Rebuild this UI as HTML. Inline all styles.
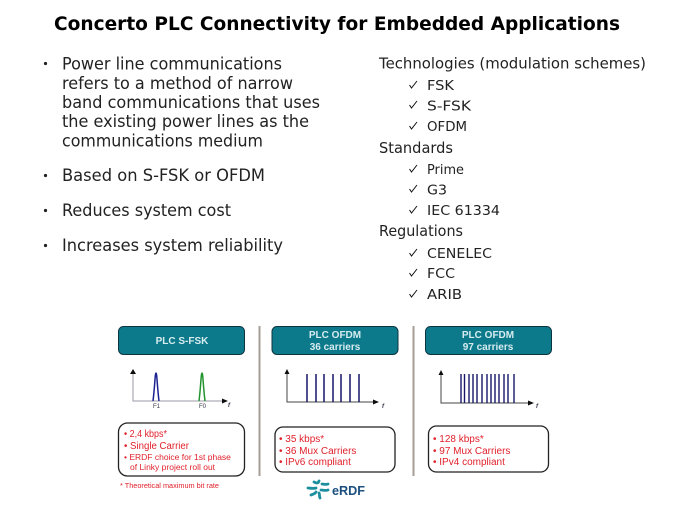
<!DOCTYPE html>
<html>
<head>
<meta charset="utf-8">
<style>
html,body{margin:0;padding:0;background:#fff;width:674px;height:506px;overflow:hidden}
svg{display:block}
.t{font-family:"DejaVu Sans",sans-serif;fill:#222;font-size:17px}
.r{font-family:"DejaVu Sans",sans-serif;fill:#222;font-size:15px}
.s{font-family:"DejaVu Sans",sans-serif;fill:#222;font-size:13.5px}
.h{font-family:"Liberation Sans",sans-serif;fill:#d8ecef;font-size:10px;font-weight:bold;text-anchor:middle}
.m{font-family:"Liberation Sans",sans-serif;fill:#e0202c;font-size:10px}
.n{font-family:"Liberation Sans",sans-serif;fill:#e0202c;font-size:8.5px}
.f{font-family:"Liberation Sans",sans-serif;fill:#334;font-size:6px}
</style>
</head>
<body>
<svg width="674" height="506" viewBox="0 0 674 506" xmlns="http://www.w3.org/2000/svg">
<defs><filter id="b" x="-5%" y="-5%" width="110%" height="110%"><feGaussianBlur stdDeviation="0.38"/></filter></defs>
<text x="54" y="30" font-family="'DejaVu Sans',sans-serif" font-weight="bold" font-size="19px" fill="#000" textLength="566" lengthAdjust="spacingAndGlyphs">Concerto PLC Connectivity for Embedded Applications</text>

<g fill="#222"><circle cx="45.500" cy="63.500" r="1.600"/><circle cx="45.500" cy="175.500" r="1.600"/><circle cx="45.500" cy="210.500" r="1.600"/><circle cx="45.500" cy="245.500" r="1.600"/></g>
<text class="t" x="62" y="69.500" textLength="220" lengthAdjust="spacingAndGlyphs">Power line communications</text>
<text class="t" x="62" y="89" textLength="231" lengthAdjust="spacingAndGlyphs">refers to a method of narrow</text>
<text class="t" x="62" y="108" textLength="258" lengthAdjust="spacingAndGlyphs">band communications that uses</text>
<text class="t" x="62" y="127" textLength="247" lengthAdjust="spacingAndGlyphs">the existing power lines as the</text>
<text class="t" x="62" y="146.500" textLength="201" lengthAdjust="spacingAndGlyphs">communications medium</text>
<text class="t" x="62" y="181" textLength="203" lengthAdjust="spacingAndGlyphs">Based on S-FSK  or OFDM</text>
<text class="t" x="62" y="216" textLength="169" lengthAdjust="spacingAndGlyphs">Reduces system cost</text>
<text class="t" x="62" y="251" textLength="221" lengthAdjust="spacingAndGlyphs">Increases system reliability</text>

<text class="r" x="379" y="68.500" textLength="267" lengthAdjust="spacingAndGlyphs">Technologies (modulation schemes)</text>
<text class="r" x="379" y="153" textLength="74" lengthAdjust="spacingAndGlyphs">Standards</text>
<text class="r" x="379" y="236" textLength="84" lengthAdjust="spacingAndGlyphs">Regulations</text>

<text class="s" x="427" y="90" textLength="27" lengthAdjust="spacingAndGlyphs">FSK</text>
<text class="s" x="427" y="110.500" textLength="44" lengthAdjust="spacingAndGlyphs">S-FSK</text>
<text class="s" x="427" y="131" textLength="40" lengthAdjust="spacingAndGlyphs">OFDM</text>
<text class="s" x="427" y="174" textLength="37" lengthAdjust="spacingAndGlyphs">Prime</text>
<text class="s" x="427" y="194.500" textLength="20" lengthAdjust="spacingAndGlyphs">G3</text>
<text class="s" x="427" y="215" textLength="73" lengthAdjust="spacingAndGlyphs">IEC 61334</text>
<text class="s" x="427" y="258" textLength="65" lengthAdjust="spacingAndGlyphs">CENELEC</text>
<text class="s" x="427" y="278" textLength="28" lengthAdjust="spacingAndGlyphs">FCC</text>
<text class="s" x="427" y="299" textLength="35" lengthAdjust="spacingAndGlyphs">ARIB</text>

<g fill="none" stroke="#111" stroke-width="1">
<path d="M409.500 85l2 3 5.500-7"/><path d="M409.500 105l2 3 5.500-7"/><path d="M409.500 126l2 3 5.500-7"/>
<path d="M409.500 169l2 3 5.500-7"/><path d="M409.500 189l2 3 5.500-7"/><path d="M409.500 210l2 3 5.500-7"/>
<path d="M409.500 253l2 3 5.500-7"/><path d="M409.500 273l2 3 5.500-7"/><path d="M409.500 294l2 3 5.500-7"/>
</g>

<g filter="url(#b)">
<!-- headers -->
<g fill="#0b7a8c" stroke="#0c3540" stroke-width="1">
<rect x="118.500" y="326.500" width="126" height="28" rx="5"/>
<rect x="272" y="326.500" width="126" height="28" rx="5"/>
<rect x="425.500" y="326.500" width="126" height="28" rx="5"/>
</g>
<text class="h" x="182" y="344">PLC S-FSK</text>
<text class="h" x="335" y="338">PLC OFDM</text>
<text class="h" x="335" y="350">36 carriers</text>
<text class="h" x="488" y="338">PLC OFDM</text>
<text class="h" x="488" y="350">97 carriers</text>

<!-- dividers -->
<rect x="258.500" y="326" width="2" height="150" fill="#a59d96"/>
<rect x="412.500" y="326" width="2" height="150" fill="#a59d96"/>

<!-- chart 1 -->
<path d="M133 372V401H224" fill="none" stroke="#9a9aa6" stroke-width="1"/>
<path d="M133 369l-3 5h6zM228 401l-6-2.500v5z" fill="#111"/>
<path d="M153 401C155 385 155 373 156 373C157 373 157 385 159 401" fill="none" stroke="#1f2490" stroke-width="1.500"/>
<path d="M199 401C201 385 201 373 202 373C203 373 203 385 205 401" fill="none" stroke="#23942f" stroke-width="1.500"/>
<text class="f" x="153" y="408">F1</text>
<text class="f" x="199" y="408">F0</text>
<text class="f" x="228" y="407" font-style="italic" style="font-weight:bold">f</text>

<!-- chart 2 -->
<path d="M287 372V402H374" fill="none" stroke="#444" stroke-width="1"/>
<path d="M287 369l-2.500 5h5zM379 402l-6-2.500v5z" fill="#111"/>
<path d="M307 374V402M316 374V402M324 374V402M333 374V402M341 374V402M350 374V402M359 374V402" stroke="#14146a" stroke-width="1.500"/>
<text class="f" x="382" y="408" font-style="italic" style="font-weight:bold">f</text>

<!-- chart 3 -->
<path d="M441 373V403H529" fill="none" stroke="#444" stroke-width="1"/>
<path d="M441 370l-2.500 5h5zM534 403l-6-2.500v5z" fill="#111"/>
<path d="M461 374V403M464.500 374V403M469 374V403M473 374V403M477 374V403M482 374V403M487 374V403M491 374V403M495 374V403M499 374V403M504 374V403M508 374V403M514 374V403" stroke="#14146a" stroke-width="1.400"/>
<text class="f" x="536" y="408" font-style="italic" style="font-weight:bold">f</text>

<!-- info boxes -->
<g fill="#fff" stroke="#222" stroke-width="1.300">
<rect x="118.500" y="423" width="126" height="53" rx="9"/>
<rect x="275" y="427" width="120" height="45" rx="8"/>
<rect x="428.500" y="426" width="120" height="46" rx="8"/>
</g>
<text class="m" x="124" y="437" textLength="43" lengthAdjust="spacingAndGlyphs">• 2,4 kbps*</text>
<text class="m" x="124" y="449" textLength="65" lengthAdjust="spacingAndGlyphs">• Single Carrier</text>
<text class="n" x="124" y="460">• ERDF choice for 1st phase</text>
<text class="n" x="130" y="470">of Linky project roll out</text>
<text x="120" y="488" font-family="'Liberation Sans',sans-serif" font-size="7px" fill="#e0202c" textLength="99" lengthAdjust="spacingAndGlyphs">* Theoretical maximum bit rate</text>

<text class="m" x="279" y="442">• 35 kbps*</text>
<text class="m" x="279" y="454">• 36 Mux Carriers</text>
<text class="m" x="279" y="465">• IPv6 compliant</text>

<text class="m" x="433" y="442">• 128 kbps*</text>
<text class="m" x="433" y="454">• 97 Mux Carriers</text>
<text class="m" x="433" y="465">• IPv4 compliant</text>

<!-- logo -->
<g fill="none" stroke="#1f8f9e" stroke-width="2.800" stroke-linecap="round">
<path d="M314 482c2 1 4 2 5-1"/>
<path d="M322 484c2 0 4 1 6 0"/>
<path d="M308 488c2 0 5 1 8 0"/>
<path d="M321 490c2 0 5 1 7 0"/>
<path d="M311 495c2-1 4-1 5-3"/>
<path d="M320 498c-1-2 0-3-1-5"/>
</g>
<text x="332" y="495" font-family="'Liberation Sans',sans-serif" font-weight="bold" font-size="13px" fill="#1e4f7d" textLength="33" lengthAdjust="spacingAndGlyphs">eRDF</text>
</g>
</svg>
</body>
</html>
